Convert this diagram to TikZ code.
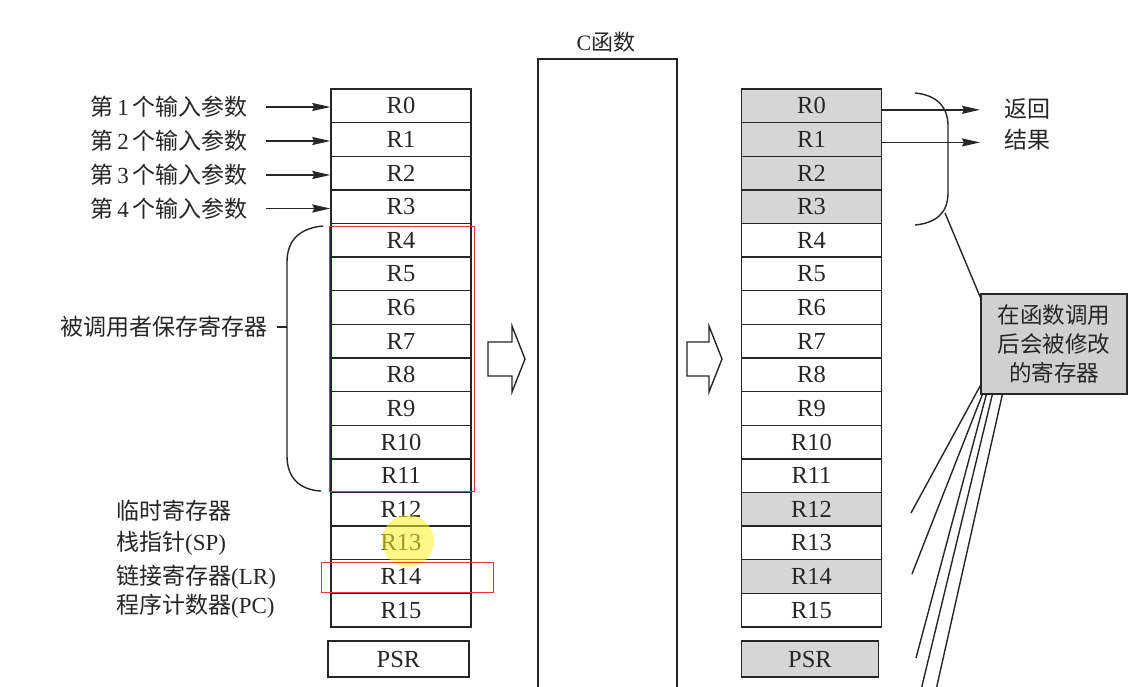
\documentclass[tikz,border=0pt]{standalone}
\usepackage{fontspec}
\setmainfont{Liberation Serif}
\newfontfamily\cjk{Noto Sans CJK SC}
\usetikzlibrary{arrows.meta,calc}
\definecolor{ink}{HTML}{262626}
\definecolor{regfill}{HTML}{D6D6D6}
\definecolor{boxfill}{HTML}{D0D0D0}
\definecolor{markred}{HTML}{E53935}
\begin{document}
\begin{tikzpicture}[x=1pt,y=-1pt,
  reg/.style={draw=ink, line width=1.4pt, minimum width=140pt, minimum height=33.625pt, inner sep=0pt, font=\fontsize{24.5}{28}\selectfont, text=ink},
  hot/.style={reg, fill=regfill},
  lab/.style={font=\fontsize{23}{28}\selectfont\cjk, text=ink, inner sep=0pt},
  arr/.style={draw=ink, line width=1.4pt, -{Stealth[length=18pt,width=8pt,inset=2pt]}},
  ln/.style={draw=ink, line width=1.4pt},
  redbox/.style={draw=markred, line width=1pt}]
\useasboundingbox (0,0) rectangle (1138,686);
\clip (0,0) rectangle (1138,686);
\fill[white] (0,0) rectangle (1138,686);

% left register column
\foreach \i in {0,...,15}{
  \pgfmathsetmacro\yc{89+33.625*(\i+0.5)}
  \node[reg] (L\i) at (401,\yc) {R\i};
}
\node[reg, minimum height=36pt, minimum width=141pt] (Lpsr) at (398.5,659) {PSR};

% right register column
\foreach \i/\s in {0/hot,1/hot,2/hot,3/hot,4/reg,5/reg,6/reg,7/reg,8/reg,9/reg,10/reg,11/reg,12/hot,13/reg,14/hot,15/reg}{
  \pgfmathsetmacro\yc{89+33.625*(\i+0.5)}
  \node[\s] (Q\i) at (811.5,\yc) {R\i};
}
\node[hot, minimum height=36pt, minimum width=137pt] (Qpsr) at (810,659) {PSR};

% C function box
\node[draw=ink, line width=1.4pt, minimum width=139pt, minimum height=640pt, inner sep=0pt] (cfun) at (607.5,379) {};
\node[font=\fontsize{22}{26}\selectfont, text=ink, inner sep=0pt] (ctitle) at (606,42) {C{\cjk 函数}};

% hollow arrows
\draw[ln, line join=miter] (488,342) -- (512,342) -- (512,326) -- (525,359) -- (512,392) -- (512,376) -- (488,376) -- cycle;
\draw[ln, line join=miter] (687,342) -- (709,342) -- (709,326) -- (722,359) -- (709,392) -- (709,376) -- (687,376) -- cycle;

% input parameter labels
\node[lab, anchor=east] (in0) at (248,107) {第{\rmfamily\,1\,}个输入参数};
\node[lab, anchor=east] (in1) at (248,141) {第{\rmfamily\,2\,}个输入参数};
\node[lab, anchor=east] (in2) at (248,175) {第{\rmfamily\,3\,}个输入参数};
\node[lab, anchor=east] (in3) at (248,208.5) {第{\rmfamily\,4\,}个输入参数};
\foreach \i in {0,...,3}{
  \draw[arr] ([xshift=18pt]in\i.east) -- (in\i.east -| L\i.west);
}

% callee-saved brace
\node[lab, anchor=east] (callee) at (268,327) {被调用者保存寄存器};
\draw[ln] (323,226) .. controls (300,228) and (287,240) .. (287,262) -- (287,456) .. controls (287,478) and (300,490) .. (321,491);
\draw[ln] ([xshift=9pt]callee.east) -- ([xshift=19pt]callee.east);

% lower left labels
\node[lab, anchor=west] (t12) at (116,511) {临时寄存器};
\node[lab, anchor=west] (t13) at (116,543) {栈指针{\rmfamily(SP)}};
\node[lab, anchor=west] (t14) at (116,577) {链接寄存器{\rmfamily(LR)}};
\node[lab, anchor=west] (t15) at (116,606) {程序计数器{\rmfamily(PC)}};

% return result
\node[lab, anchor=west] (ret1) at (1004,109) {返回};
\node[lab, anchor=west] (ret2) at (1004,140) {结果};
\draw[arr] ([yshift=-4pt]Q0.east) -- ([xshift=-24pt,yshift=-4pt]Q0.east -| ret1.west);
\draw[arr] ([yshift=-3pt]Q1.east) -- ([xshift=-24pt,yshift=-3pt]Q1.east -| ret2.west);

% right brace
\draw[ln] (915,93) .. controls (936,95) and (948,106) .. (948,126) -- (948,193) .. controls (948,213) and (936,223) .. (915,225);

% modified registers box
\node[draw=ink, fill=boxfill, line width=1.4pt, minimum width=146pt, minimum height=100pt, align=center, inner sep=0pt, text=ink, font=\fontsize{22.5}{29}\selectfont\cjk] (mod) at (1054,344) {在函数调用\\后会被修改\\的寄存器};
\coordinate (bk) at (945,213);
\draw[ln] (bk) -- ([yshift=-4pt]mod.north west);

% fan lines
\coordinate (f1) at (911,513);
\coordinate (f2) at (912,574);
\coordinate (f3) at (916,658);
\coordinate (f4) at (921,690);
\coordinate (f5) at (936,690);
\draw[ln] ([yshift=9pt]mod.south west) -- (f1);
\draw[ln] ([xshift=2pt]mod.south west) -- (f2);
\draw[ln] ([xshift=6pt]mod.south west) -- (f3);
\draw[ln] ([xshift=12pt]mod.south west) -- (f4);
\draw[ln] ([xshift=22pt]mod.south west) -- (f5);

% highlight and red marks
\fill[yellow!85!white, opacity=0.55] (408,541) circle (26);
\draw[redbox] (329,226) rectangle (474,491);
\draw[redbox] (321,562) rectangle (493,592);
\end{tikzpicture}
\end{document}
